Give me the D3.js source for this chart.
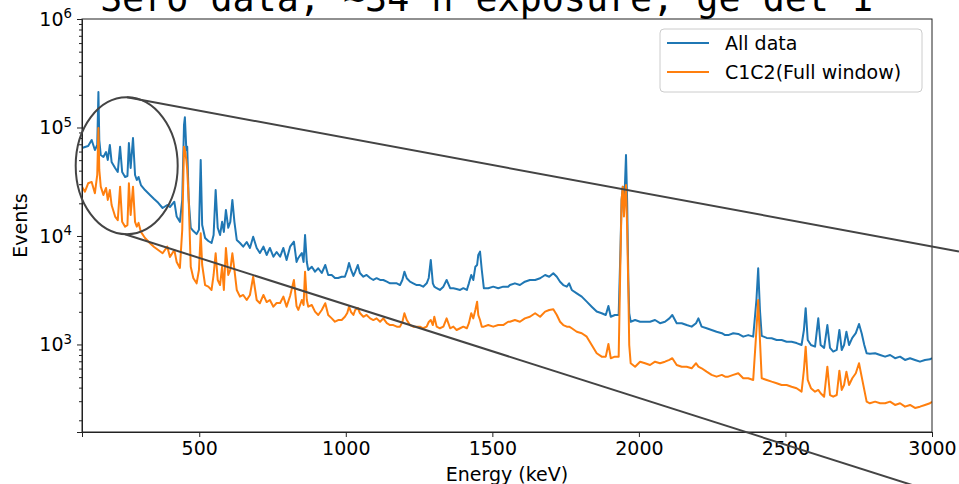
<!DOCTYPE html>
<html>
<head>
<meta charset="utf-8">
<script src="https://cdn.jsdelivr.net/npm/d3@7"></script>
<style>
  body { margin: 0; background: #fff; }
  svg { display: block; font-family: "DejaVu Sans", sans-serif; }
</style>
</head>
<body>
<svg id="chart" width="959" height="484"></svg>
<script>
// energy grid (keV)
const energies = [
  100, 110, 121, 133, 144, 152, 156, 159, 164, 173, 182, 188, 195, 201, 213, 222, 230, 237, 247, 255,
  260, 266, 274, 281, 287, 293, 301, 315, 332, 346, 360, 375, 391, 400, 415, 423, 434, 442, 448, 451,
  456, 459, 464, 471, 480, 491, 499, 505, 510, 520, 531, 542, 549, 556, 563, 571, 578, 584, 591, 599,
  606, 613, 620, 628, 639, 650, 662, 673, 684, 696, 707, 719, 730, 741, 753, 764, 776, 787, 798, 810,
  823, 832, 838, 850, 856, 861, 867, 872, 884, 895, 906, 918, 930, 940, 952, 963, 974, 986, 997, 1005,
  1011, 1018, 1026, 1032, 1041, 1048, 1060, 1071, 1083, 1094, 1105, 1117, 1128, 1140, 1151, 1162, 1174, 1185, 1193, 1200,
  1208, 1219, 1230, 1242, 1253, 1264, 1276, 1283, 1290, 1297, 1302, 1310, 1321, 1333, 1344, 1356, 1367, 1378, 1390, 1401,
  1413, 1420, 1428, 1435, 1442, 1448, 1452, 1458, 1464, 1471, 1486, 1503, 1520, 1537, 1554, 1560, 1577, 1594, 1611, 1628,
  1646, 1663, 1680, 1694, 1708, 1720, 1731, 1742, 1754, 1762, 1771, 1788, 1805, 1822, 1839, 1856, 1873, 1887, 1896, 1904,
  1918, 1931, 1937, 1941, 1945, 1949, 1953, 1956, 1960, 1964, 1967, 1972, 1987, 2004, 2021, 2038, 2055, 2072, 2089, 2104,
  2114, 2129, 2146, 2163, 2180, 2195, 2203, 2214, 2231, 2248, 2265, 2283, 2294, 2305, 2322, 2339, 2356, 2373, 2390, 2401,
  2407, 2413, 2419, 2436, 2453, 2470, 2487, 2504, 2521, 2538, 2555, 2563, 2569, 2576, 2587, 2601, 2612, 2620, 2632, 2643,
  2652, 2663, 2675, 2684, 2692, 2700, 2708, 2717, 2728, 2740, 2751, 2760, 2769, 2777, 2788, 2806, 2823, 2840, 2857, 2874,
  2891, 2908, 2925, 2942, 2959, 2976, 2993, 3000
];

// events, all data
const allData = [
  64700, 66100, 67500, 76700, 62000, 69000, 212000, 76700, 55800, 53500, 59400, 50200, 69000, 48100, 42300, 38900, 66500, 38900, 35000, 35700,
  72000, 42300, 80000, 36500, 32800, 35000, 29500, 26500, 23900, 21900, 20200, 18100, 19300, 18500, 20700, 15100, 13500, 21500, 105000, 124000,
  62000, 66500, 21500, 11900, 11100, 10400, 11400, 50200, 12600, 9590, 8990, 8620, 10200, 26500, 11900, 10200, 13500, 10900, 17400, 11900,
  13500, 21500, 13500, 9190, 8620, 7970, 8800, 7760, 9850, 7760, 6970, 7970, 6680, 7760, 6440, 7120, 6440, 7760, 6010, 7970,
  8860, 5760, 6270, 6970, 5760, 10200, 5760, 4860, 5210, 4690, 5040, 4560, 5400, 4370, 4370, 4100, 4100, 4210, 4210, 4860,
  5640, 4860, 4280, 4660, 5400, 4560, 4210, 4370, 4100, 3930, 4080, 3930, 3930, 3790, 3660, 3660, 3660, 3530, 3930, 4690,
  4080, 3790, 3660, 3530, 3530, 3410, 3660, 4100, 6010, 3660, 3410, 3300, 3180, 3410, 3930, 3300, 3300, 3250, 3180, 3300,
  3180, 3660, 4370, 3930, 5210, 5400, 6680, 7170, 4860, 3300, 3300, 3410, 3300, 3410, 3410, 3530, 3660, 3530, 3790, 3930,
  3930, 4080, 4370, 4210, 4530, 4210, 3790, 3530, 3410, 3660, 3180, 2960, 2760, 2480, 2230, 2010, 1940, 1870, 2260, 1800,
  1870, 1870, 7430, 21500, 28500, 16300, 32800, 55800, 20200, 3930, 1940, 1620, 1680, 1620, 1620, 1620, 1680, 1570, 1620, 1740,
  1870, 1570, 1570, 1510, 1460, 1570, 1740, 1460, 1410, 1360, 1310, 1270, 1220, 1220, 1270, 1250, 1180, 1220, 1180, 2570,
  5040, 2080, 1200, 1150, 1140, 1100, 1100, 1060, 1060, 1030, 989, 1360, 2160, 1100, 989, 954, 1740, 989, 930, 1510,
  930, 860, 890, 1360, 890, 989, 1310, 989, 1150, 1270, 1545, 1270, 989, 830, 820, 830, 800, 772, 800, 747,
  772, 720, 747, 720, 694, 720, 730, 747
];

// events, C1C2 (full window)
const c1c2 = [
  28500, 25600, 30600, 31500, 24800, 36500, 98900, 40600, 28500, 23900, 27700, 21500, 26500, 19300, 15100, 14000, 28500, 13500, 12200, 12600,
  30600, 15600, 28500, 13500, 12200, 13200, 10900, 9590, 8570, 7920, 7430, 6930, 7970, 6400, 7430, 5760, 5070, 11400, 66500, 62000,
  50200, 40600, 21500, 5210, 4080, 3660, 4860, 10600, 5400, 3530, 3410, 3180, 4370, 6930, 3930, 3530, 5210, 3180, 7760, 4370,
  4860, 6930, 4860, 3180, 2760, 2860, 2570, 2860, 4210, 2570, 2400, 2860, 2460, 2570, 2230, 2410, 2410, 2760, 2230, 2800,
  3930, 2260, 2080, 2570, 2310, 4690, 2570, 2230, 2310, 2010, 1870, 2080, 2400, 1870, 1740, 1620, 1680, 1680, 1800, 1950,
  2230, 1990, 1870, 2080, 2170, 1950, 1800, 1870, 1740, 1680, 1740, 1620, 1740, 1570, 1510, 1510, 1460, 1460, 1610, 1940,
  1680, 1510, 1460, 1460, 1460, 1410, 1460, 1610, 1680, 1510, 1800, 1460, 1410, 1460, 1740, 1410, 1460, 1360, 1410, 1460,
  1410, 1570, 1940, 1740, 2080, 2480, 1870, 1680, 1460, 1460, 1510, 1460, 1510, 1510, 1620, 1620, 1680, 1620, 1740, 1800,
  1940, 1800, 2010, 2080, 2110, 1870, 1620, 1510, 1460, 1460, 1410, 1310, 1270, 1180, 989, 830, 772, 772, 1010, 747,
  772, 772, 6010, 21500, 28500, 15100, 23900, 29500, 11400, 3180, 989, 671, 624, 694, 671, 647, 694, 671, 694, 720,
  747, 647, 624, 624, 603, 671, 624, 603, 561, 524, 505, 524, 505, 505, 524, 543, 488, 488, 471, 1360,
  2570, 1100, 488, 471, 454, 439, 423, 423, 408, 395, 367, 582, 954, 471, 395, 367, 381, 355, 330, 624,
  342, 330, 342, 573, 381, 423, 561, 423, 488, 543, 671, 505, 381, 297, 287, 297, 287, 287, 297, 277,
  287, 267, 277, 260, 267, 277, 287, 297
];

const seriesNames = ["All data", "C1C2(Full window)"];
const seriesColors = ["#1f77b4", "#ff7f0e"];
const xTicks = [500, 1000, 1500, 2000, 2500, 3000];
const yTicks = [1e3, 1e4, 1e5, 1e6];
const titleText = "Sero data, ~34 h exposure, ge det 1";

// circled region (energy / events range) and the two lines drawn out of it
const zoomBox = { e0: 78.5, e1: 426.5, v0: 10370, v1: 189700 };
const zoomLines = [
  [253.5, 189700, 3092, 7196],
  [246.7, 10370, 3092, 36.9]
];

const svg = d3.select("#chart");
const margin = { top: 19, right: 27, bottom: 52, left: 82 };
const width = +svg.attr("width") - margin.left - margin.right;
const height = +svg.attr("height") - margin.top - margin.bottom;

const x = d3.scaleLinear().domain([100, 3000]).range([0, width]);
const y = d3.scaleLog().domain([156, 1e6]).range([height, 0]);

const g = svg.append("g")
    .attr("transform", `translate(${margin.left},${margin.top})`);

g.append("clipPath").attr("id", "plot-clip")
  .append("rect").attr("width", width).attr("height", height);

// spectra
const line = d3.line()
    .x((d, i) => x(energies[i]))
    .y(d => y(d));

[allData, c1c2].forEach((series, k) => {
  g.append("path")
      .datum(series)
      .attr("clip-path", "url(#plot-clip)")
      .attr("fill", "none")
      .attr("stroke", seriesColors[k])
      .attr("stroke-width", 2)
      .attr("stroke-linejoin", "round")
      .attr("d", line);
});

// x axis
g.append("g")
    .attr("transform", `translate(0,${height})`)
    .call(d3.axisBottom(x).tickValues(xTicks).tickSize(5).tickPadding(5).tickFormat(d3.format("d")));

// y axis, major ticks with 10^n labels
const yAxis = g.append("g")
    .call(d3.axisLeft(y).tickValues(yTicks).tickSize(5).tickPadding(5).tickFormat(() => "10"));
yAxis.selectAll(".tick text").each(function(d) {
  d3.select(this).append("tspan")
      .attr("dy", "-0.55em")
      .attr("font-size", "0.7em")
      .text(Math.round(Math.log10(d)));
});

// minor ticks
g.append("g")
    .call(d3.axisLeft(y).tickValues(y.ticks().filter(d => !yTicks.includes(d))).tickSize(3).tickFormat(""))
    .select(".domain").remove();

g.selectAll(".tick text")
    .attr("font-family", "DejaVu Sans, sans-serif")
    .attr("font-size", 19)
    .attr("fill", "#000");
g.selectAll(".tick line").attr("stroke", "#222");
g.selectAll(".domain").attr("stroke", "#222");

// frame
g.append("rect")
    .attr("width", width).attr("height", height)
    .attr("fill", "none").attr("stroke", "#222").attr("stroke-width", 1);

// axis labels
g.append("text")
    .attr("x", width / 2).attr("y", height + 49)
    .attr("text-anchor", "middle")
    .attr("font-size", 19)
    .text("Energy (keV)");

svg.append("text")
    .attr("transform", `translate(27,${margin.top + height / 2}) rotate(-90)`)
    .attr("text-anchor", "middle")
    .attr("font-size", 19)
    .text("Events");

// title, cut by the top edge as in the original figure
svg.append("text")
    .attr("x", 100).attr("y", 11)
    .attr("font-family", "DejaVu Sans Mono, monospace")
    .attr("font-size", 36.7)
    .text(titleText);

// annotation: circle round the low-energy peaks and two lines
const cx = (x(zoomBox.e0) + x(zoomBox.e1)) / 2;
const cy = (y(zoomBox.v0) + y(zoomBox.v1)) / 2;
g.append("ellipse")
    .attr("cx", cx).attr("cy", cy)
    .attr("rx", (x(zoomBox.e1) - x(zoomBox.e0)) / 2)
    .attr("ry", (y(zoomBox.v0) - y(zoomBox.v1)) / 2)
    .attr("fill", "none").attr("stroke", "#444").attr("stroke-width", 2);

g.selectAll(".zoom-line")
  .data(zoomLines)
  .enter().append("line")
    .attr("class", "zoom-line")
    .attr("x1", d => x(d[0])).attr("y1", d => y(d[1]))
    .attr("x2", d => x(d[2])).attr("y2", d => y(d[3]))
    .attr("stroke", "#444").attr("stroke-width", 2);

// legend
const legend = svg.append("g").attr("transform", "translate(660,29)");
legend.append("rect")
    .attr("width", 262).attr("height", 63).attr("rx", 4)
    .attr("fill", "#fff").attr("fill-opacity", 0.8)
    .attr("stroke", "#ccc");
seriesNames.forEach((name, k) => {
  const ly = 14 + k * 29;
  legend.append("line")
      .attr("x1", 7).attr("x2", 49).attr("y1", ly).attr("y2", ly)
      .attr("stroke", seriesColors[k]).attr("stroke-width", 2);
  legend.append("text")
      .attr("x", 65).attr("y", ly).attr("dy", "0.35em")
      .attr("font-size", 19)
      .text(name);
});
</script>
</body>
</html>
